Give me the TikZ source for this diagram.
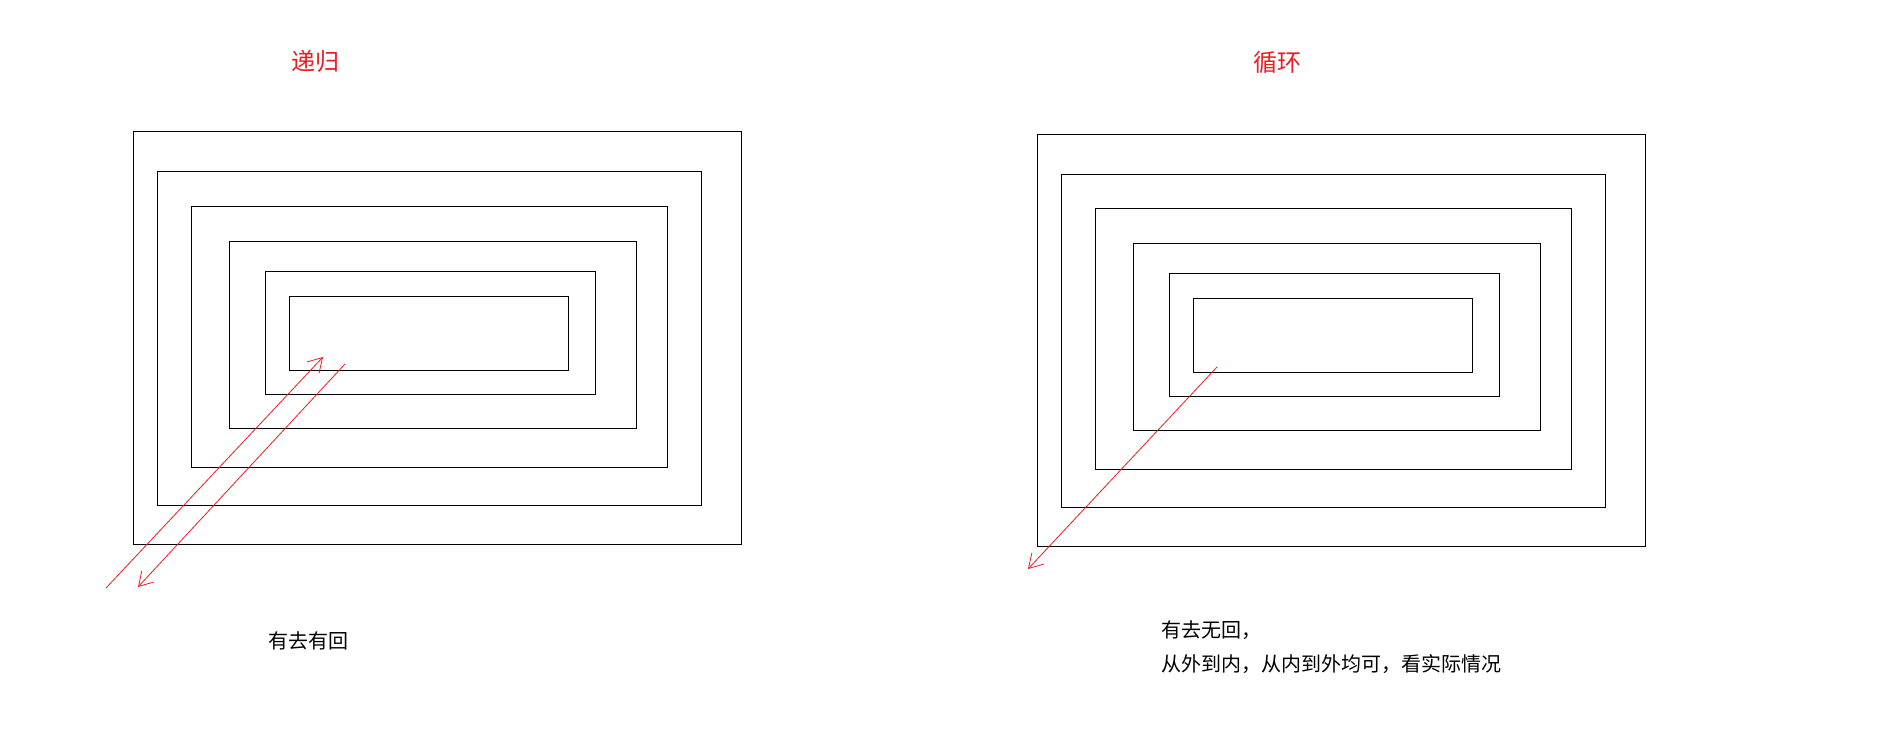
\documentclass[tikz,border=0pt]{standalone}
\usepackage{fontspec}
\setmainfont{Noto Sans CJK SC}
\usetikzlibrary{arrows.meta}
\definecolor{penred}{RGB}{237,28,36}
\tikzstyle{frame}=[draw,line width=1pt]
\tikzstyle{redstroke}=[draw,line width=0.8pt,penred,-{Straight Barb[angle=62:16pt,line width=0.8pt]}]
\tikzstyle{title}=[text=penred,inner sep=0pt,font=\fontsize{24}{28}\selectfont]
\tikzstyle{note}=[text=black,inner sep=0pt,font=\fontsize{20}{24}\selectfont]
\newcommand{\panelshift}{904}

\begin{document}
\begin{tikzpicture}[x=1pt, y=-1pt]
    \useasboundingbox[fill=white] (0,0) rectangle (1896,749);
    % First we draw the nested frames, left panel and right panel
    \foreach \dx/\dy in {0/0, \panelshift/2.5}
        \foreach \xa/\ya/\xb/\yb in {133/132/741/544, 157/172/701/505, 191/206/667/467,
                                     229/241/636/428, 265/271/595/394, 289/296/568/370}
            \path[frame] (\xa+\dx,\ya+\dy) rectangle (\xb+\dx,\yb+\dy);
    % Titles and notes
    \node[title] (rectitle) at (315,61) {递归};
    \node[title] (looptitle) at (1277,62) {循环};
    \node[note] (recnote) at (308,641) {有去有回};
    \node[note, anchor=base west] (loopnote) at (1161,637) {有去无回，};
    \node[note, anchor=base west] (loopnoteb) at ([yshift=-34pt]loopnote.base west) {从外到内，从内到外均可，看实际情况};
    % End points of the red strokes
    \coordinate (goin) at (106,588);
    \coordinate (gotip) at (323,357);
    \coordinate (backin) at (345,364);
    \coordinate (backtip) at (138,587);
    \coordinate (loopin) at (1217,367);
    \coordinate (looptip) at (1028,569);
    \path[redstroke] (goin) -- (gotip);
    \path[redstroke] (backin) -- (backtip);
    \path[redstroke] (loopin) -- (looptip);
\end{tikzpicture}
\end{document}
